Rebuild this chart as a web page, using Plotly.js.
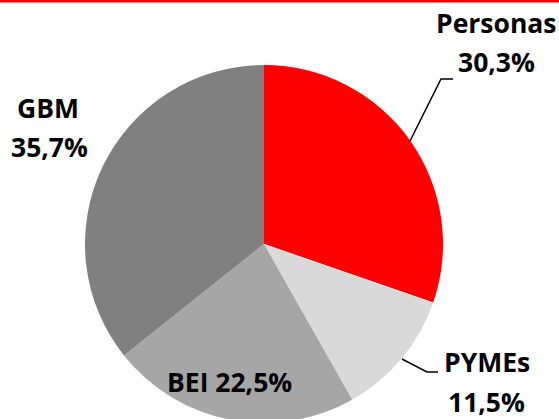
<!DOCTYPE html>
<html>
<head>
<meta charset="utf-8">
<script src="https://cdn.plot.ly/plotly-3.0.1.min.js"></script>
<style>
html,body{margin:0;padding:0;overflow:hidden;background:#fff;}
#chart{width:559px;height:440px;}
</style>
</head>
<body>
<div id="chart"></div>
<script>
// Data
var labels = ['Personas', 'PYMEs', 'BEI', 'GBM'];
var values = [30.3, 11.5, 22.5, 35.7];
var colors = ['#FF0000', '#D9D9D9', '#A6A6A6', '#808080'];

var W = 559, H = 440;
function px(x){ return x / W; }
function py(y){ return 1 - y / H; }
function fmt(v){ return v.toFixed(1).replace('.', ',') + '%'; }

var font = {family: '"Open Sans", "Liberation Sans", Arial, sans-serif', size: 26.5, color: '#000'};

// Label placement (pixel positions of line centres)
var labelLines = [
  [{t: labels[0], x: 496, y: 23}, {t: fmt(values[0]), x: 496, y: 62}],
  [{t: labels[1], x: 487, y: 362}, {t: fmt(values[1]), x: 486, y: 402}],
  [{t: labels[2] + ' ' + fmt(values[2]), x: 229, y: 382}],
  [{t: labels[3], x: 48, y: 108}, {t: fmt(values[3]), x: 49, y: 147}]
];

var annotations = [];
labelLines.forEach(function(lines){
  lines.forEach(function(l){
    annotations.push({
      xref: 'paper', yref: 'paper', x: px(l.x), y: py(l.y),
      xanchor: 'center', yanchor: 'middle', showarrow: false,
      text: '<b>' + l.t + '</b>', font: font
    });
  });
});

var shapes = [
  {type: 'rect', xref: 'paper', yref: 'paper', x0: 0, x1: 1, y0: py(2.6), y1: 1,
   fillcolor: '#FF0000', line: {width: 0}},
  {type: 'path', xref: 'paper', yref: 'paper',
   path: 'M ' + px(410) + ' ' + py(141) + ' L ' + px(441) + ' ' + py(79) + ' L ' + px(453) + ' ' + py(79),
   line: {color: '#000', width: 1.5}},
  {type: 'path', xref: 'paper', yref: 'paper',
   path: 'M ' + px(402) + ' ' + py(359) + ' L ' + px(427) + ' ' + py(372) + ' L ' + px(438) + ' ' + py(372),
   line: {color: '#000', width: 1.5}}
];

var trace = {
  type: 'pie',
  labels: labels,
  values: values,
  sort: false,
  direction: 'clockwise',
  rotation: 0,
  marker: {colors: colors, line: {width: 0}},
  textinfo: 'none',
  hoverinfo: 'none',
  showlegend: false,
  domain: {x: [px(85), px(443)], y: [py(423), py(65)]}
};

var layout = {
  width: W, height: H,
  margin: {l: 0, r: 0, t: 0, b: 0},
  paper_bgcolor: '#fff',
  showlegend: false,
  annotations: annotations,
  shapes: shapes
};

Plotly.newPlot('chart', [trace], layout, {staticPlot: true, displayModeBar: false});
</script>
</body>
</html>
